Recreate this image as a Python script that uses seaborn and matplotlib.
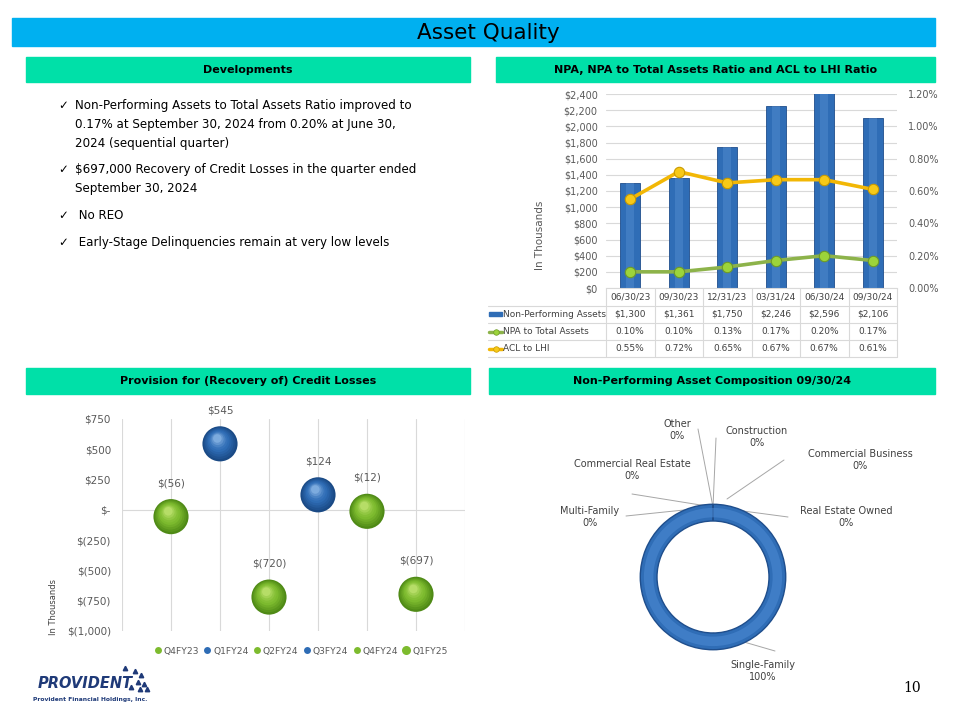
import matplotlib
matplotlib.use("Agg")
import matplotlib.pyplot as plt
import matplotlib.transforms as mtransforms
from matplotlib.lines import Line2D
from matplotlib.patches import Rectangle
import numpy as np
import pandas as pd
import seaborn as sns

# ---------------- data ----------------
npa_dates = ["06/30/23", "09/30/23", "12/31/23", "03/31/24", "06/30/24", "09/30/24"]
npa_amounts = [1300, 1361, 1750, 2246, 2596, 2106]
npa_to_assets = [0.10, 0.10, 0.13, 0.17, 0.20, 0.17]
acl_to_lhi = [0.55, 0.72, 0.65, 0.67, 0.67, 0.61]

provision_quarters = ["Q4FY23", "Q1FY24", "Q2FY24", "Q3FY24", "Q4FY24", "Q1FY25"]
provision_values = [-56, 545, -720, 124, -12, -697]

composition_labels = ["Single-Family", "Multi-Family", "Commercial Real Estate", "Other",
                      "Construction", "Commercial Business", "Real Estate Owned"]
composition_values = [100, 0, 0, 0, 0, 0, 0]

bullets = [
    ["Non-Performing Assets to Total Assets Ratio improved to",
     "0.17% at September 30, 2024 from 0.20% at June 30,",
     "2024 (sequential quarter)"],
    ["$697,000 Recovery of Credit Losses in the quarter ended",
     "September 30, 2024"],
    [" No REO"],
    [" Early-Stage Delinquencies remain at very low levels"],
]

# ---------------- style ----------------
sns.set_style("white")
plt.rcParams["font.family"] = ["DejaVu Sans"]

W, H = 960, 720
TITLE_BLUE = "#00B0F0"
HEADER_GREEN = "#00E0A8"
BAR_BLUE = "#2F6DB6"
GOLD = "#F2B705"
OLIVE = "#8DB34A"
BALL_GREEN = "#7DBB2E"
BALL_BLUE = "#2E6CB5"
TXT = "#595959"


def px_rect(x0, y0, x1, y1):
    return [x0 / W, 1 - y1 / H, (x1 - x0) / W, (y1 - y0) / H]


fig = plt.figure(figsize=(9.6, 7.2), dpi=100)
fig.patch.set_facecolor("white")

# background overlay in pixel coordinates
bg = fig.add_axes([0, 0, 1, 1])
bg.set_xlim(0, W)
bg.set_ylim(H, 0)
bg.axis("off")

# title bar and section headers
bg.add_patch(Rectangle((12, 18), 923, 28, color=TITLE_BLUE, zorder=0))
bg.text(488, 33, "Asset Quality", ha="center", va="center", fontsize=15.5, color="black")

headers = [
    (26, 57, 470, 82, "Developments"),
    (496, 57, 935, 82, "NPA, NPA to Total Assets Ratio and ACL to LHI Ratio"),
    (26, 368, 470, 394, "Provision for (Recovery of) Credit Losses"),
    (489, 368, 935, 394, "Non-Performing Asset Composition 09/30/24"),
]
for x0, y0, x1, y1, label in headers:
    bg.add_patch(Rectangle((x0, y0), x1 - x0, y1 - y0, color=HEADER_GREEN, zorder=0))
    bg.text((x0 + x1) / 2, (y0 + y1) / 2 + 0.5, label, ha="center", va="center",
            fontsize=8, fontweight="bold", color="black")

# developments bullets
y = 106
for lines in bullets:
    bg.text(58, y, "\u2713", ha="left", va="center", fontsize=8.5, color="black")
    for line in lines:
        bg.text(75, y, line, ha="left", va="center", fontsize=8.6, color="black")
        y += 18.5
    y += 8.5

# ---------------- NPA bar chart ----------------
ax_bar = fig.add_axes(px_rect(606, 94, 897, 288))
npa_df = pd.DataFrame({"date": npa_dates, "npa": npa_amounts,
                       "npa_ratio": npa_to_assets, "acl": acl_to_lhi})
sns.barplot(data=npa_df, x="date", y="npa", ax=ax_bar, color=BAR_BLUE,
            width=0.42, saturation=1, edgecolor="#1F4E8C", linewidth=0.6, zorder=2)
sns.barplot(data=npa_df, x="date", y="npa", ax=ax_bar, color="#5B93D6",
            width=0.16, saturation=1, linewidth=0, alpha=0.4, zorder=3)
ax_bar.set_ylim(0, 2400)
ax_bar.set_xlim(-0.5, 5.5)
ax_bar.set_yticks(range(0, 2401, 200))
ax_bar.set_yticklabels([f"${v:,}" for v in range(0, 2401, 200)], fontsize=7, color=TXT)
ax_bar.set_xticks([])
ax_bar.set_xlabel("")
ax_bar.set_ylabel("")
ax_bar.yaxis.grid(True, color="#D9D9D9", linewidth=0.8, zorder=0)
ax_bar.set_axisbelow(True)
ax_bar.tick_params(axis="y", length=0, pad=6)
for s in ax_bar.spines.values():
    s.set_visible(False)
ax_bar.spines["bottom"].set_visible(True)
ax_bar.spines["bottom"].set_color("#D9D9D9")

ax_r = ax_bar.twinx()
xpos = np.arange(len(npa_dates))
sns.lineplot(x=xpos, y=acl_to_lhi, ax=ax_r, color=GOLD, linewidth=2.6,
             marker="o", markersize=7.5, markerfacecolor="#F7C918",
             markeredgecolor="#C99A00", markeredgewidth=0.8, zorder=4)
sns.lineplot(x=xpos, y=npa_to_assets, ax=ax_r, color=OLIVE, linewidth=2.6,
             marker="o", markersize=7.5, markerfacecolor="#9CD43A",
             markeredgecolor="#6E9A28", markeredgewidth=0.8, zorder=4)
ax_r.set_ylim(0, 1.2)
ax_r.set_xlim(-0.5, 5.5)
ax_r.set_yticks(np.arange(0, 1.21, 0.2))
ax_r.set_yticklabels([f"{v:.2f}%" for v in np.arange(0, 1.21, 0.2)], fontsize=7, color=TXT)
ax_r.tick_params(axis="y", length=0, pad=8)
ax_r.set_ylabel("")
for s in ax_r.spines.values():
    s.set_visible(False)

bg.text(540, 235, "In Thousands", rotation=90, ha="center", va="center",
        fontsize=7.5, color=TXT)

# data table under the bar chart
col_w = (897 - 606) / len(npa_dates)
row_edges = [288, 306, 323, 340, 357]
tab_rows = [
    ("Non-Performing Assets", [f"${v:,}" for v in npa_amounts]),
    ("NPA to Total Assets", [f"{v:.2f}%" for v in npa_to_assets]),
    ("ACL to LHI", [f"{v:.2f}%" for v in acl_to_lhi]),
]
grid_c = "#D9D9D9"
for i in range(len(npa_dates) + 1):
    bg.plot([606 + i * col_w] * 2, [288, 357], color=grid_c, lw=0.8)
for yy in row_edges[1:]:
    bg.plot([488, 897], [yy, yy], color=grid_c, lw=0.8)
for i, d in enumerate(npa_dates):
    bg.text(606 + (i + 0.5) * col_w, (row_edges[0] + row_edges[1]) / 2, d,
            ha="center", va="center", fontsize=6.5, color="#404040")
for r, (name, vals) in enumerate(tab_rows):
    yc = (row_edges[r + 1] + row_edges[r + 2]) / 2
    bg.text(503, yc, name, ha="left", va="center", fontsize=6.5, color="#404040")
    for i, v in enumerate(vals):
        bg.text(606 + (i + 0.5) * col_w, yc, v, ha="center", va="center",
                fontsize=6.5, color="#404040")
bg.add_patch(Rectangle((489, 312), 13, 4, color=BAR_BLUE))
bg.plot([489, 502], [331.5, 331.5], color=OLIVE, lw=2.5)
bg.plot([495.5], [331.5], "o", ms=4, mfc="#9CD43A", mec="#6E9A28", mew=0.5)
bg.plot([489, 502], [348.5, 348.5], color=GOLD, lw=2.5)
bg.plot([495.5], [348.5], "o", ms=4, mfc="#F7C918", mec="#C99A00", mew=0.5)

# ---------------- provision bubble chart ----------------
ax_b = fig.add_axes(px_rect(122, 419, 465, 631))
bpos = np.arange(1, len(provision_quarters) + 1)
ball_colors = [BALL_BLUE if v > 0 else BALL_GREEN for v in provision_values]
prov_df = pd.DataFrame({"pos": bpos, "value": provision_values, "quarter": provision_quarters})
dark = {BALL_BLUE: "#1A4A85", BALL_GREEN: "#4F8A16"}
light = {BALL_BLUE: "#9CC4EE", BALL_GREEN: "#CDEB7E"}
sns.scatterplot(data=prov_df, x="pos", y="value", hue="quarter",
                palette={q: dark[c] for q, c in zip(provision_quarters, ball_colors)}, s=640,
                edgecolor="none", legend=False, ax=ax_b, zorder=3)
# shading layers for a glossy ball look
n_layers = 9
for k in range(1, n_layers):
    f = k / n_layers
    for x, v, c in zip(bpos, provision_values, ball_colors):
        c0 = np.array(matplotlib.colors.to_rgb(dark[c]))
        cm = np.array(matplotlib.colors.to_rgb(c))
        c1 = np.array(matplotlib.colors.to_rgb(light[c]))
        if f < 0.45:
            col = c0 + (cm - c0) * (f / 0.45)
        else:
            col = cm + (c1 - cm) * ((f - 0.45) / 0.55) ** 1.5
        off = mtransforms.ScaledTranslation(-0.03 * f, 0.06 * f, fig.dpi_scale_trans)
        ax_b.scatter([x], [v], s=640 * (1 - 0.85 * f) ** 2, color=col,
                     edgecolor="none", transform=ax_b.transData + off, zorder=3 + k)
for x, v in zip(bpos, provision_values):
    lab = f"${v:,}" if v >= 0 else f"$({abs(v):,})"
    ax_b.annotate(lab, (x, v), xytext=(0, 24), textcoords="offset points",
                  ha="center", va="center", fontsize=7.5, color=TXT)
ax_b.set_xlim(0, 7)
ax_b.set_ylim(-1000, 750)
yt = list(range(-1000, 751, 250))
ax_b.set_yticks(yt)
ax_b.set_yticklabels(["$-" if v == 0 else (f"${v:,}" if v > 0 else f"$({abs(v):,})") for v in yt],
                     fontsize=7.5, color=TXT)
ax_b.set_xticks(range(0, 8))
ax_b.set_xticklabels([])
ax_b.tick_params(length=0, pad=8)
ax_b.xaxis.grid(True, color="#D9D9D9", linewidth=0.8)
ax_b.yaxis.grid(False)
ax_b.axhline(0, color="#D9D9D9", linewidth=0.8, zorder=1)
ax_b.set_axisbelow(True)
ax_b.set_xlabel("")
ax_b.set_ylabel("")
for s in ax_b.spines.values():
    s.set_visible(False)
handles = [Line2D([], [], marker="o", linestyle="none", markersize=5 if i < 5 else 6.5,
                  markerfacecolor=c, markeredgecolor="none")
           for i, c in enumerate(ball_colors)]
ax_b.legend(handles, provision_quarters, loc="upper center", bbox_to_anchor=(0.52, -0.035),
            ncol=6, frameon=False, fontsize=6.6, handletextpad=0.15, columnspacing=0.4,
            handlelength=1.0, labelcolor=TXT)
bg.text(53, 607, "In Thousands", rotation=90, ha="center", va="center", fontsize=6, color="#404040")

# ---------------- composition donut ----------------
cx, cy, rpx = 713, 577, 80
ax_p = fig.add_axes(px_rect(cx - rpx, cy - rpx, cx + rpx, cy + rpx))
ax_p.pie(composition_values, radius=1, startangle=90, counterclock=False,
         colors=[BAR_BLUE] * len(composition_values),
         wedgeprops=dict(width=0.23, edgecolor="#1F4E8C", linewidth=1.0))
ax_p.pie(composition_values, radius=0.95, startangle=90, counterclock=False,
         colors=["#4A88D2"] * len(composition_values),
         wedgeprops=dict(width=0.13, edgecolor="none", alpha=0.6))
ax_p.set_xlim(-1.1, 1.1)
ax_p.set_ylim(-1.1, 1.1)
ax_p.set_aspect("equal")
ax_p.axis("off")

label_pos = {
    "Single-Family": (763, 671, 775, 651, 713, 633),
    "Multi-Family": (590, 517, 626, 516, 713, 507),
    "Commercial Real Estate": (632, 470, 632, 494, 713, 507),
    "Other": (677, 430, 698, 429, 713, 507),
    "Construction": (757, 437, 716, 438, 713, 507),
    "Commercial Business": (860, 460, 784, 460, 727, 499),
    "Real Estate Owned": (846, 517, 788, 517, 713, 507),
}
for name, val in zip(composition_labels, composition_values):
    tx, ty, lx, ly, ex, ey = label_pos[name]
    bg.plot([lx, ex], [ly, ey], color="#A6A6A6", lw=0.7)
    bg.text(tx, ty, f"{name}\n{val}%", ha="center", va="center", fontsize=7,
            color="#404040", linespacing=1.15)

# ---------------- footer ----------------
bg.text(912, 688, "10", ha="center", va="center", fontsize=10, color="black",
        family="DejaVu Serif")
bg.text(38, 683, "PROVIDENT", ha="left", va="center", fontsize=10.5, fontweight="bold",
        fontstyle="italic", color="#1F3A78")
bg.text(90, 700, "Provident Financial Holdings, Inc.", ha="center", va="center",
        fontsize=4.3, fontweight="bold", color="#1F3A78")
bg.plot([135, 141, 138, 144, 131, 147, 140, 125], [671, 675, 682, 684, 687, 689, 689, 668], "^",
        ms=3.2, color="#1F3A78", linestyle="none")

fig.savefig("out.png", dpi=100)
